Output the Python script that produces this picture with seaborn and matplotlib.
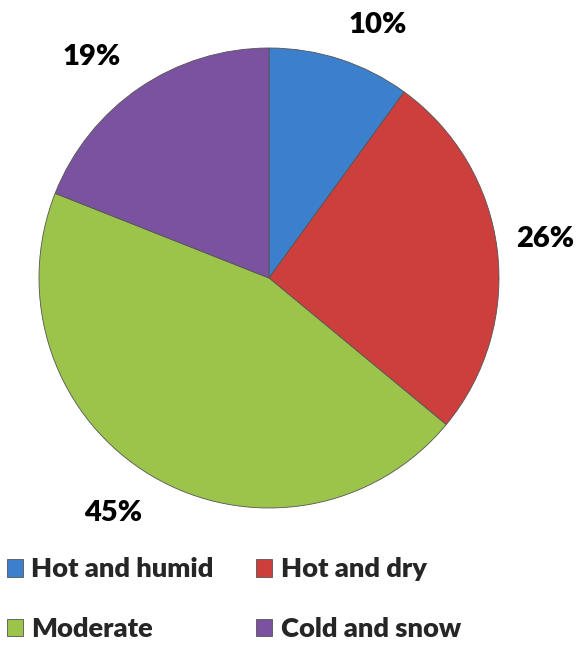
import seaborn as sns
import matplotlib.pyplot as plt

# climate zone shares (%)
zones = ["Hot and humid", "Hot and dry", "Moderate", "Cold and snow"]
shares = [10, 26, 45, 19]
zone_colors = ["#3c7fcc", "#cc3f3d", "#9cc44a", "#7a52a0"]

# where the percentage labels sit (pie radius units), as in the original
label_xy = [(0.474, 1.10), (1.20, 0.17), (-0.678, -1.022), (-0.770, 0.961)]

sns.set_theme(style="white")
plt.rcParams['font.family'] = ['Lato', 'DejaVu Sans']

fig = plt.figure(figsize=(5.79, 6.46), dpi=100)
# pie centre ~ (269, 278) px, radius ~230 px
ax = fig.add_axes([39 / 579, (646 - 278 - 230) / 646, 460 / 579, 460 / 646])

wedges, texts, autotexts = ax.pie(
    shares, colors=zone_colors, startangle=90, counterclock=False,
    autopct="%1.0f%%", pctdistance=1.21, radius=1,
    wedgeprops=dict(edgecolor="#555555", linewidth=0.6),
    textprops=dict(fontsize=21, fontweight="heavy", color="black"),
)
for t, xy in zip(autotexts, label_xy):
    t.set_position(xy)
ax.set_xlim(-1, 1)
ax.set_ylim(-1, 1)
ax.set_aspect("equal")

# Excel fills the legend row by row
order = [0, 2, 1, 3]
leg = fig.legend(
    [wedges[i] for i in order], [zones[i] for i in order],
    loc="upper left", bbox_to_anchor=(0.012, 0.137),
    ncol=2, frameon=False, prop=dict(weight="heavy", size=19.6),
    handlelength=0.6, handleheight=0.6, handletextpad=0.3,
    columnspacing=1.55, labelspacing=1.3, borderpad=0, borderaxespad=0,
)

fig.savefig("out.png", dpi=100)
